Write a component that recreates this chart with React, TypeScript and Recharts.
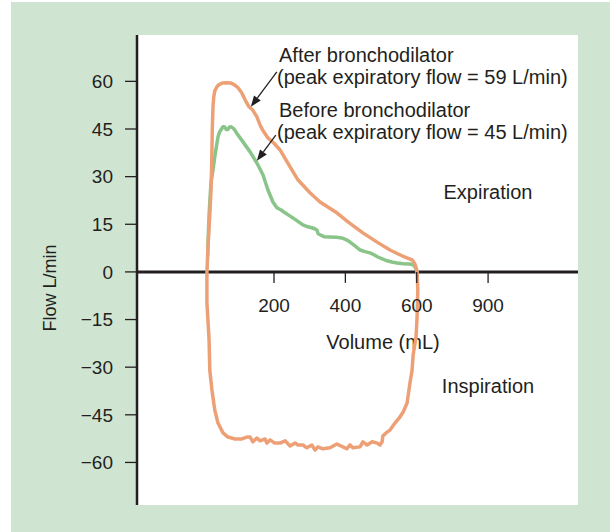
import React from 'react';
import {
  ComposedChart,
  Line,
  XAxis,
  YAxis,
  ReferenceLine,
  ReferenceDot,
  CartesianGrid,
  Customized,
} from 'recharts';

// ---- Data (volume in mL, flow in L/min) ----
const afterVolume = [
  12, 15, 18, 21, 23, 25, 26, 27, 29, 31, 34, 40, 46, 56, 68, 78, 88, 99, 109, 119, 130, 140, 152, 162, 169, 183,
  200, 217, 240, 267, 300, 329, 376, 410, 449, 490, 525, 560, 587, 595, 599, 601,
  603, 601, 598, 590, 587, 581, 573, 562, 551, 539, 525, 514, 505, 503, 497,
  489, 475, 461, 449, 441, 421, 413, 404, 393, 376, 357, 337, 323, 315, 306, 292, 281, 267, 259, 245, 231, 217,
  202, 189, 180, 175, 161, 152, 141, 133, 124, 110, 91, 71, 57, 43, 34, 26, 20, 18, 12, 12,
];
const afterFlow = [
  0, 8, 14, 20, 25, 32, 38, 45, 52, 55, 57, 58.3, 59, 59.5, 59.6, 59.5, 59, 58, 56.5, 54.2, 52, 51, 48.8, 46, 44.5, 42.2,
  40.5, 38.4, 34, 29, 25, 22, 18.6, 15.5, 12.3, 9.3, 6.9, 5, 3.8, 2.5, 1, 0,
  -5.7, -14.2, -20.5, -26.1, -30.9, -35, -41.3, -44.1, -46, -47.6, -49.8, -50.7, -51.7, -53.5, -54.5,
  -53.9, -53.5, -54.5, -53.5, -55.1, -55.4, -54.5, -55.7, -55.1, -54.2, -55.4, -55.7, -55.1, -56.1, -54.5, -55.4, -54.5, -54.5, -53.9, -54.8, -53.2, -53.9,
  -53.9, -52.9, -53.9, -52.6, -53.2, -52.3, -53.5, -52, -52, -52.6, -52.6, -52, -50.7, -47.6, -43.5, -37.2, -30.9, -21.4, -9.8, 0,
];

const beforeVolume = [
  14, 16, 18, 20, 23, 26, 29, 33, 37, 43, 47, 51, 57, 62, 65, 68, 71, 75, 79, 84, 88, 96, 105, 119, 133, 152, 169, 183,
  197, 208, 220, 231, 242, 253, 266, 281, 295, 306, 314, 320, 324, 329, 340, 357, 375, 390, 403, 413, 427, 441, 455,
  469, 480, 491, 505, 517, 530, 545, 563, 581, 590, 595, 599, 601,
];
const beforeFlow = [
  5, 12, 18, 22, 27.4, 30, 32.1, 35.5, 38.4, 42.5, 44, 44.7, 45.7, 45.6, 45, 44.8, 44.9, 45.6, 45.7, 45.4, 45, 43.6, 42.2, 40, 37.8, 34.3, 30.6, 25.8,
  22, 20.2, 19.5, 18.6, 17.8, 17, 16, 14.8, 14.2, 13.9, 13.6, 13.2, 12, 11.7, 11.1, 11, 10.9, 10.7, 10.1, 9.4, 8.2, 6.9, 6.4,
  6, 5.4, 4.7, 4, 3.5, 3.1, 2.8, 2.6, 2.5, 2.2, 1.6, 0.6, 0,
];

const yTicks = [60, 45, 30, 15, 0, -15, -30, -45, -60];
const xTickValues = [200, 400, 600, 800];
const xTickLabels = ['200', '400', '600', '900'];

// arrows: from label to curve, in data units
const arrowAfter = [{ x: 208, y: 63 }, { x: 135, y: 52 }];
const arrowBefore = [{ x: 205, y: 43.1 }, { x: 152, y: 35 }];

const afterData = afterVolume.map((v, i) => ({ v, f: afterFlow[i] }));
const beforeData = beforeVolume.map((v, i) => ({ v, f: beforeFlow[i] }));

const INK = '#231F20';
const ORANGE = '#EDA076';
const GREEN = '#89C489';
const BG = '#D0E5D1';
const FONT = '"Liberation Sans", Arial, Helvetica, sans-serif';

const fmtY = (v: number) => (v < 0 ? '\u2212' + Math.abs(v) : String(v));

const Arrow = (p: any) => {
  const { x1, y1, x2, y2 } = p;
  const ang = Math.atan2(y2 - y1, x2 - x1);
  const L = 11;
  const W = 4.2;
  const bx = x2 - L * Math.cos(ang);
  const by = y2 - L * Math.sin(ang);
  const nx = -Math.sin(ang) * W;
  const ny = Math.cos(ang) * W;
  return (
    <g>
      <line x1={x1} y1={y1} x2={bx} y2={by} stroke={INK} strokeWidth={1.3} />
      <polygon points={`${x2},${y2} ${bx + nx},${by + ny} ${bx - nx},${by - ny}`} fill={INK} />
    </g>
  );
};

const Annotations = () => (
  <g fontFamily={FONT} fill={INK} fontSize={20}>
    <text x={279} y={62}>After bronchodilator</text>
    <text x={277} y={84}>(peak expiratory flow = 59 L/min)</text>
    <text x={279} y={117}>Before bronchodilator</text>
    <text x={277} y={139}>(peak expiratory flow = 45 L/min)</text>
    <text x={488} y={199} textAnchor="middle">Expiration</text>
    <text x={383} y={349} textAnchor="middle">Volume (mL)</text>
    <text x={488} y={393} textAnchor="middle">Inspiration</text>
    <text
      x={50}
      y={288}
      textAnchor="middle"
      dominantBaseline="central"
      fontSize={18}
      transform="rotate(-90 50 288)"
    >
      Flow L/min
    </text>
  </g>
);

export default function App() {
  return (
    <div style={{ position: 'absolute', left: 0, top: 0, width: 610, height: 532, background: '#fff' }}>
      <div style={{ position: 'absolute', left: 11, top: 2, width: 599, height: 530, background: BG }} />
      <div style={{ position: 'absolute', left: 0, top: 0 }}>
        <ComposedChart width={610} height={532} margin={{ top: 35, right: 32, bottom: 27, left: 0 }}>
          <CartesianGrid horizontal={false} vertical={false} fill="#ffffff" stroke="none" />
          <XAxis type="number" dataKey="v" domain={[-184, 1052]} hide allowDataOverflow />
          <YAxis
            type="number"
            domain={[-73.4, 74.6]}
            ticks={yTicks}
            width={137}
            allowDataOverflow
            interval={0}
            tickFormatter={fmtY}
            axisLine={{ stroke: INK, strokeWidth: 2.5 }}
            tickLine={{ stroke: INK, strokeWidth: 1.3 }}
            tickSize={12}
            tickMargin={12}
            tick={{ fill: INK, fontSize: 19, fontFamily: FONT }}
          />
          <ReferenceLine y={0} stroke={INK} strokeWidth={3} />
          {xTickValues.map((v, i) => (
            <ReferenceDot
              key={v}
              x={v}
              y={0}
              r={1}
              shape={(p: any) => (
                <g>
                  <line x1={p.cx} y1={p.cy} x2={p.cx} y2={p.cy + 11} stroke={INK} strokeWidth={1.3} />
                  <text x={p.cx} y={p.cy + 40} textAnchor="middle" fill={INK} fontSize={19} fontFamily={FONT}>
                    {xTickLabels[i]}
                  </text>
                </g>
              )}
            />
          ))}
          <Line
            data={beforeData}
            dataKey="f"
            type="linear"
            stroke={GREEN}
            strokeWidth={3.5}
            dot={false}
            isAnimationActive={false}
            strokeLinejoin="round"
            strokeLinecap="round"
          />
          <Line
            data={afterData}
            dataKey="f"
            type="linear"
            stroke={ORANGE}
            strokeWidth={3.5}
            dot={false}
            isAnimationActive={false}
            strokeLinejoin="round"
            strokeLinecap="round"
          />
          <ReferenceLine segment={arrowAfter} shape={Arrow} />
          <ReferenceLine segment={arrowBefore} shape={Arrow} />
          <Customized component={Annotations} />
        </ComposedChart>
      </div>
    </div>
  );
}
